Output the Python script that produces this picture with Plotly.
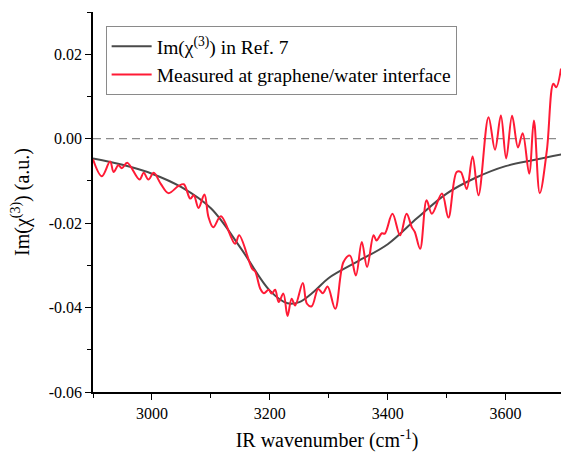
import plotly.graph_objects as go

# Reference curve Im(chi3) from Ref. 7
ref_wn = [2900, 2950, 3000, 3050, 3100, 3150, 3200, 3230, 3250, 3275, 3300, 3350,
          3400, 3450, 3500, 3550, 3600, 3650, 3700]
ref_val = [-0.0047, -0.0062, -0.0083, -0.0115, -0.0165, -0.0258, -0.0360, -0.0390,
           -0.0387, -0.0362, -0.0330, -0.0290, -0.0250, -0.0188, -0.0130, -0.0092,
           -0.0065, -0.0050, -0.0036]

# Measured at graphene/water interface
meas_wn = [2900, 2915, 2929, 2935, 2943, 2949, 2958, 2979, 2986, 2994, 3003, 3015,
           3028, 3045, 3054, 3065, 3071, 3079, 3089, 3096, 3104, 3117, 3141, 3148,
           3170, 3175, 3184, 3190, 3198, 3203, 3209, 3215, 3223, 3230, 3237, 3243,
           3256, 3263, 3271, 3282, 3290, 3298, 3311, 3325, 3336, 3346, 3356, 3365,
           3376, 3381, 3390, 3395, 3408, 3421, 3432, 3441, 3446, 3455, 3466, 3475,
           3492, 3503, 3517, 3524, 3534, 3544, 3554, 3571, 3582, 3592, 3601, 3611,
           3621, 3629, 3640, 3648, 3658, 3670, 3681, 3686, 3694]
meas_val = [-0.0049, -0.0089, -0.0054, -0.0079, -0.0063, -0.0070, -0.0057, -0.0097,
            -0.0081, -0.0097, -0.0081, -0.0107, -0.0129, -0.0112, -0.0108, -0.0142,
            -0.0134, -0.0164, -0.0132, -0.0186, -0.0210, -0.0184, -0.0249, -0.0229,
            -0.0308, -0.0314, -0.0356, -0.0366, -0.0358, -0.0367, -0.0358, -0.0387,
            -0.0367, -0.0420, -0.0379, -0.0395, -0.0342, -0.0391, -0.0397, -0.0356,
            -0.0366, -0.0350, -0.0403, -0.0292, -0.0277, -0.0324, -0.0245, -0.0304,
            -0.0229, -0.0241, -0.0224, -0.0225, -0.0178, -0.0229, -0.0178, -0.0210,
            -0.0221, -0.0261, -0.0146, -0.0178, -0.0130, -0.0187, -0.0079, -0.0079,
            -0.0119, -0.0042, -0.0134, 0.0051, -0.0026, 0.0055, -0.0047, 0.0054,
            -0.0021, 0.0013, -0.0083, 0.0043, -0.0129, -0.0028, 0.0130, 0.0122, 0.0166]

y_ticks = [0.02, 0.00, -0.02, -0.04, -0.06]
y_tick_text = ["0.02", "0.00", "-0.02", "-0.04", "-0.06"]
x_ticks = [3000, 3200, 3400, 3600]

FONT = "Liberation Serif"

fig = go.Figure()
fig.add_trace(go.Scatter(
    x=ref_wn, y=ref_val, mode="lines",
    line=dict(color="#4a4a4a", width=2, shape="spline", smoothing=1.0),
    name="Im(χ<sup>(3)</sup>) in Ref. 7"))
fig.add_trace(go.Scatter(
    x=meas_wn, y=meas_val, mode="lines",
    line=dict(color="#ff1a35", width=2, shape="spline", smoothing=1.0),
    name="Measured at graphene/water interface"))

fig.add_shape(type="line", xref="paper", x0=0, x1=1, yref="y", y0=0, y1=0,
              line=dict(color="#8c8c8c", width=1.3, dash="8px,5px"), layer="below")

fig.update_layout(
    width=561, height=453,
    margin=dict(l=93, r=0, t=12, b=61),
    paper_bgcolor="white", plot_bgcolor="white",
    font=dict(family=FONT, color="black", size=16),
    showlegend=True,
    legend=dict(
        x=0.027, y=0.963, xanchor="left", yanchor="top",
        bgcolor="white", bordercolor="#8a8a8a", borderwidth=1,
        font=dict(family=FONT, size=19.5, color="black"),
        tracegroupgap=0, itemwidth=40,
    ),
    xaxis=dict(
        range=[2900, 3694], showgrid=False, zeroline=False,
        showline=True, linecolor="black", linewidth=1.5, mirror=False,
        tickmode="array", tickvals=x_ticks,
        ticks="outside", ticklen=6, tickwidth=1.3, tickcolor="black",
        tickfont=dict(family=FONT, size=16),
        minor=dict(tickmode="linear", tick0=2900, dtick=100, ticks="outside",
                   ticklen=4, tickwidth=1.2, tickcolor="black"),
        title=dict(text="IR wavenumber (cm<sup>-1</sup>)",
                   font=dict(family=FONT, size=20), standoff=12),
    ),
    yaxis=dict(
        range=[-0.06, 0.03], showgrid=False, zeroline=False,
        showline=True, linecolor="black", linewidth=1.5, mirror=False,
        tickmode="array", tickvals=y_ticks, ticktext=y_tick_text,
        ticks="outside", ticklen=6, tickwidth=1.3, tickcolor="black",
        tickfont=dict(family=FONT, size=16),
        minor=dict(tickmode="linear", tick0=-0.05, dtick=0.02, ticks="outside",
                   ticklen=4, tickwidth=1.2, tickcolor="black"),
        title=dict(text="Im(χ<sup>(3)</sup>) (a.u.)",
                   font=dict(family=FONT, size=20), standoff=14),
    ),
)

fig.write_html("out.html")
